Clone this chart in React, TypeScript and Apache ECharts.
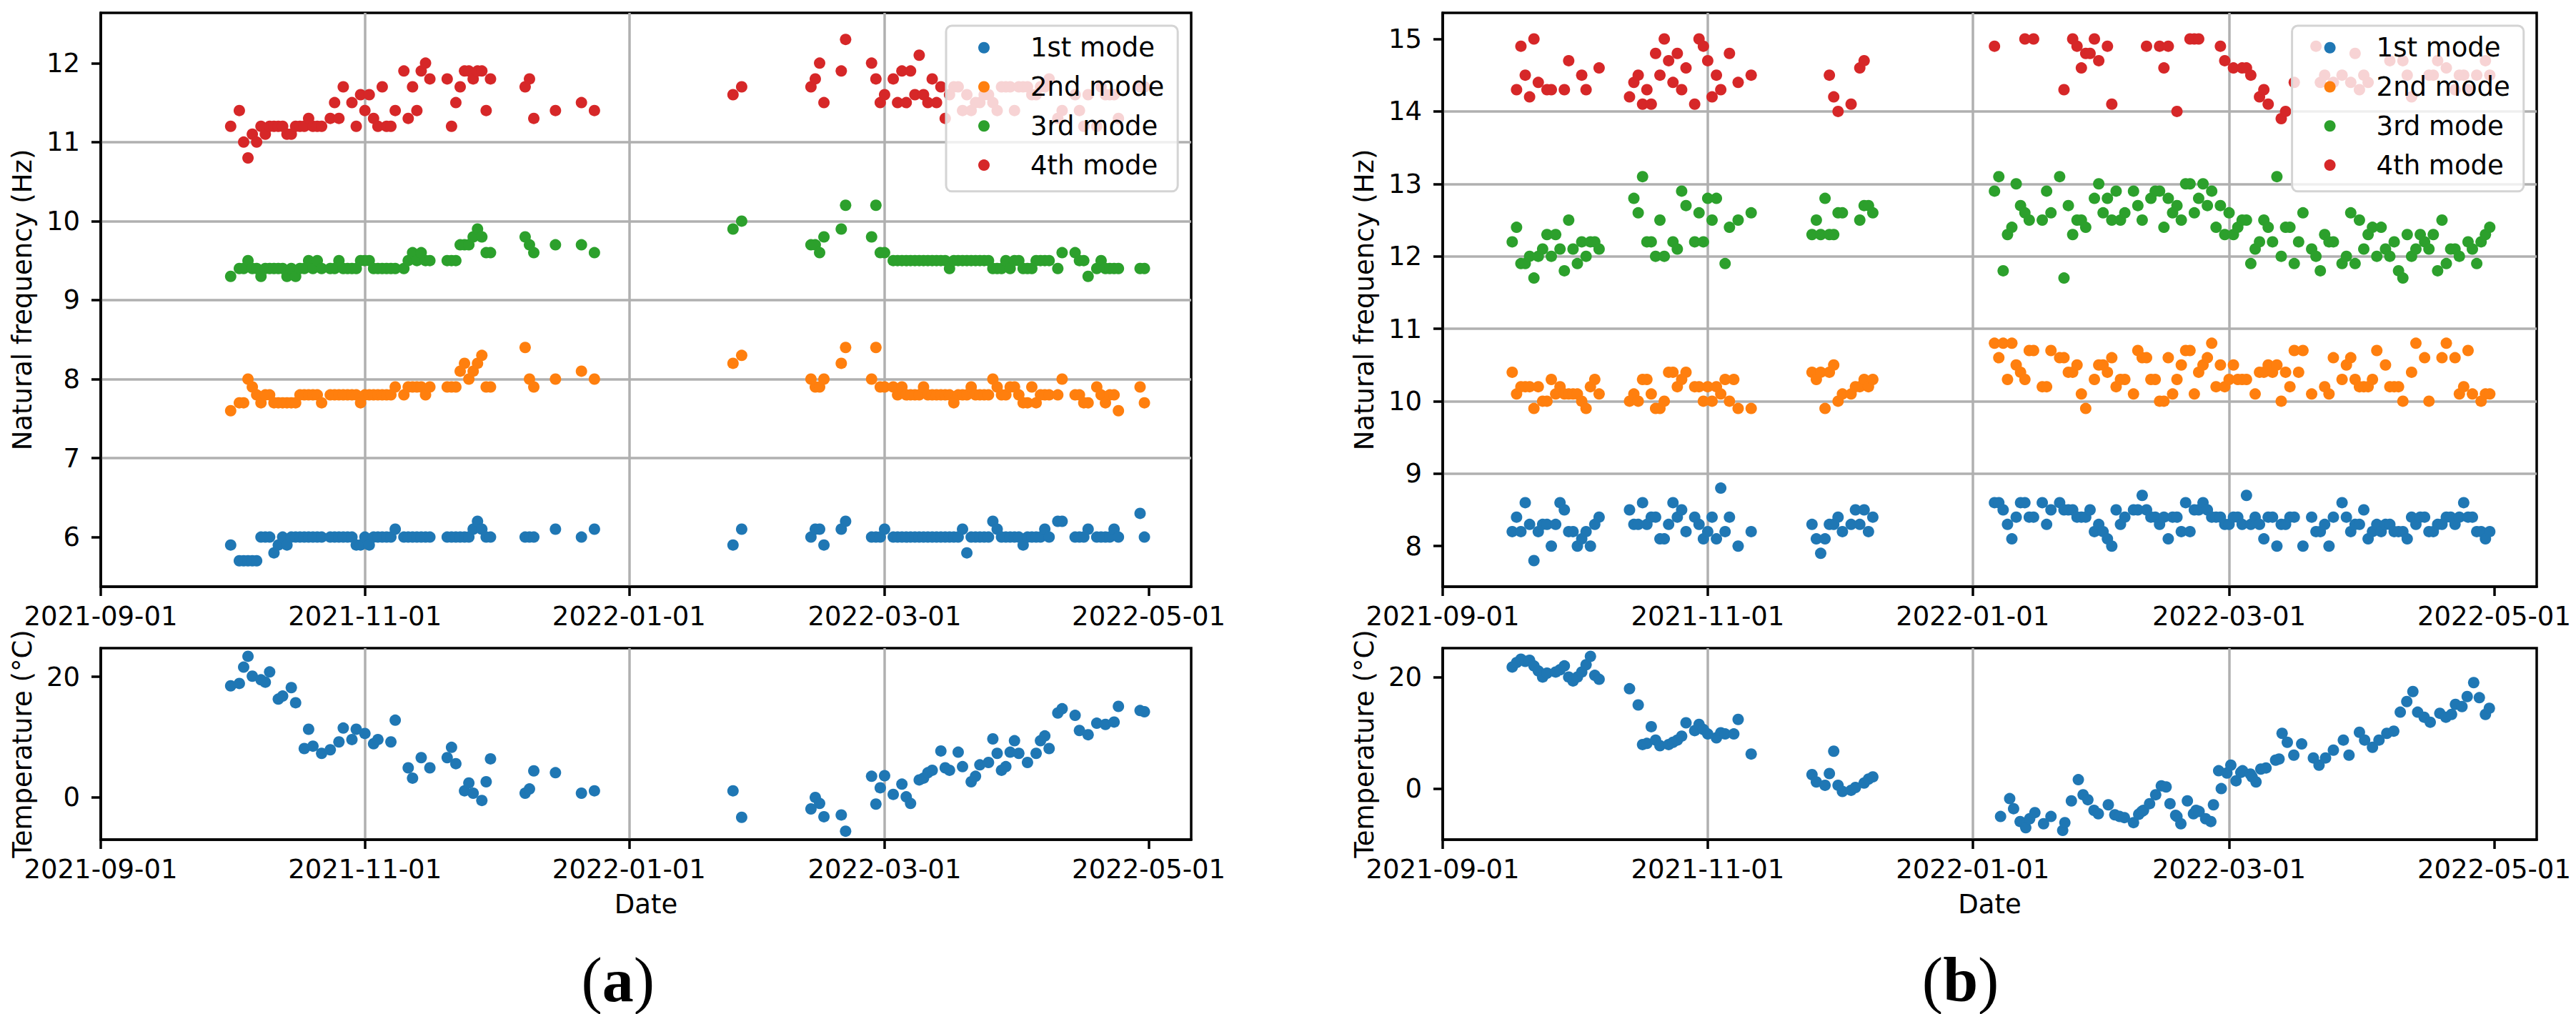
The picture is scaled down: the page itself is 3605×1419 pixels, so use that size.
import React, { useEffect, useRef } from 'react';
import * as echarts from 'echarts';

// ---------- axis ticks ----------
const X_TICK_DAYS = [0, 61, 122, 181, 242]; // days since 2021-09-01
const X_TICK_LABELS = ['2021-09-01', '2021-11-01', '2022-01-01', '2022-03-01', '2022-05-01'];
const X_MAX_DAY = 251.8;
const Y_TICKS_A = [6, 7, 8, 9, 10, 11, 12];
const Y_TICKS_B = [8, 9, 10, 11, 12, 13, 14, 15];
const T_TICKS = [0, 20];
const MODE_NAMES = ['1st mode', '2nd mode', '3rd mode', '4th mode'];
const MODE_COLORS = ['#1f77b4', '#ff7f0e', '#2ca02c', '#d62728'];

// ---------- panel (a): natural frequencies ----------
const daysA = [30, 32, 33, 34, 35, 36, 37, 38, 39, 40, 41, 42, 43, 44, 45, 46, 47, 48, 49, 50, 51, 53, 54, 55, 56, 57, 58, 59, 60, 61, 62, 63, 64, 65, 66, 67, 68, 70, 71, 72, 73, 74, 75, 76, 80, 81, 82, 83, 84, 85, 86, 87, 88, 89, 90, 98, 99, 100, 105, 111, 114,
  146, 148, 164, 165, 166, 167, 171, 172, 178, 179, 180, 181, 183, 184, 185, 186, 187, 188, 189, 190, 191, 192, 193, 194, 195, 196, 197, 198, 199, 200, 201, 202, 203, 204, 205, 206, 207, 208, 209, 210, 211, 212, 213, 214, 215, 216, 217, 218, 219, 221, 222, 225, 226, 227, 228, 230, 231, 232, 233, 234, 235, 240, 241];
const mode1A = [5.9, 5.7, 5.7, 5.7, 5.7, 5.7, 6.0, 6.0, 6.0, 5.8, 5.9, 6.0, 5.9, 6.0, 6.0, 6.0, 6.0, 6.0, 6.0, 6.0, 6.0, 6.0, 6.0, 6.0, 6.0, 6.0, 6.0, 5.9, 5.9, 6.0, 5.9, 6.0, 6.0, 6.0, 6.0, 6.0, 6.1, 6.0, 6.0, 6.0, 6.0, 6.0, 6.0, 6.0, 6.0, 6.0, 6.0, 6.0, 6.0, 6.0, 6.1, 6.2, 6.1, 6.0, 6.0, 6.0, 6.0, 6.0, 6.1, 6.0, 6.1,
  5.9, 6.1, 6.0, 6.1, 6.1, 5.9, 6.1, 6.2, 6.0, 6.0, 6.0, 6.1, 6.0, 6.0, 6.0, 6.0, 6.0, 6.0, 6.0, 6.0, 6.0, 6.0, 6.0, 6.0, 6.0, 6.0, 6.0, 6.0, 6.1, 5.8, 6.0, 6.0, 6.0, 6.0, 6.0, 6.2, 6.1, 6.0, 6.0, 6.0, 6.0, 6.0, 5.9, 6.0, 6.0, 6.0, 6.0, 6.1, 6.0, 6.2, 6.2, 6.0, 6.0, 6.0, 6.1, 6.0, 6.0, 6.0, 6.0, 6.1, 6.0, 6.3, 6.0];
const mode2A = [7.6, 7.7, 7.7, 8.0, 7.9, 7.8, 7.7, 7.8, 7.8, 7.7, 7.7, 7.7, 7.7, 7.7, 7.7, 7.8, 7.8, 7.8, 7.8, 7.8, 7.7, 7.8, 7.8, 7.8, 7.8, 7.8, 7.8, 7.8, 7.7, 7.8, 7.8, 7.8, 7.8, 7.8, 7.8, 7.8, 7.9, 7.8, 7.9, 7.9, 7.9, 7.9, 7.8, 7.9, 7.9, 7.9, 7.9, 8.1, 8.2, 8.0, 8.1, 8.2, 8.3, 7.9, 7.9, 8.4, 8.0, 7.9, 8.0, 8.1, 8.0,
  8.2, 8.3, 8.0, 7.9, 7.9, 8.0, 8.2, 8.4, 8.0, 8.4, 7.9, 7.9, 7.9, 7.8, 7.9, 7.8, 7.8, 7.8, 7.8, 7.9, 7.8, 7.8, 7.8, 7.8, 7.8, 7.8, 7.7, 7.8, 7.8, 7.8, 7.9, 7.8, 7.8, 7.8, 7.8, 8.0, 7.9, 7.8, 7.8, 7.9, 7.9, 7.8, 7.7, 7.7, 7.9, 7.7, 7.8, 7.8, 7.8, 7.8, 8.0, 7.8, 7.8, 7.7, 7.7, 7.9, 7.8, 7.7, 7.8, 7.8, 7.6, 7.9, 7.7];
const mode3A = [9.3, 9.4, 9.4, 9.5, 9.4, 9.4, 9.3, 9.4, 9.4, 9.4, 9.4, 9.4, 9.3, 9.4, 9.3, 9.4, 9.4, 9.5, 9.4, 9.5, 9.4, 9.4, 9.4, 9.5, 9.4, 9.4, 9.4, 9.4, 9.5, 9.5, 9.5, 9.4, 9.4, 9.4, 9.4, 9.4, 9.4, 9.4, 9.5, 9.6, 9.5, 9.6, 9.5, 9.5, 9.5, 9.5, 9.5, 9.7, 9.7, 9.7, 9.8, 9.9, 9.8, 9.6, 9.6, 9.8, 9.7, 9.6, 9.7, 9.7, 9.6,
  9.9, 10.0, 9.7, 9.7, 9.6, 9.8, 9.9, 10.2, 9.8, 10.2, 9.6, 9.6, 9.5, 9.5, 9.5, 9.5, 9.5, 9.5, 9.5, 9.5, 9.5, 9.5, 9.5, 9.5, 9.5, 9.4, 9.5, 9.5, 9.5, 9.5, 9.5, 9.5, 9.5, 9.5, 9.5, 9.4, 9.4, 9.4, 9.5, 9.4, 9.5, 9.5, 9.4, 9.4, 9.4, 9.5, 9.5, 9.5, 9.5, 9.4, 9.6, 9.6, 9.5, 9.5, 9.3, 9.4, 9.5, 9.4, 9.4, 9.4, 9.4, 9.4, 9.4];
const mode4A = [11.2, 11.4, 11.0, 10.8, 11.1, 11.0, 11.2, 11.1, 11.2, 11.2, 11.2, 11.2, 11.1, 11.1, 11.2, 11.2, 11.2, 11.3, 11.2, 11.2, 11.2, 11.3, 11.5, 11.3, 11.7, null, 11.5, 11.2, 11.6, 11.4, 11.6, 11.3, 11.2, 11.7, 11.2, 11.2, 11.4, 11.9, 11.3, 11.7, 11.4, 11.9, 12.0, 11.8, 11.8, 11.2, 11.5, 11.7, 11.9, 11.9, 11.8, 11.9, 11.9, 11.4, 11.8, 11.7, 11.8, 11.3, 11.4, 11.5, 11.4,
  11.6, 11.7, 11.7, 11.8, 12.0, 11.5, 11.9, 12.3, 12.0, 11.8, 11.5, 11.6, 11.8, 11.5, 11.9, 11.5, 11.9, 11.6, 12.1, 11.6, 11.5, 11.8, 11.5, 11.7, 11.3, 11.6, 11.7, 11.7, 11.4, 11.6, 11.4, 11.5, 11.5, 11.6, 11.6, 11.5, 11.4, 11.7, 11.7, 11.7, 11.4, 11.7, 11.7, 11.7, 11.6, 11.6, 11.7, 11.7, 11.8, 11.3, 11.4, 11.6, 11.4, 11.2, 11.6, 11.2, 11.7, 11.6, 11.6, 11.6, 11.3, 11.7, 11.7];

// ---------- panel (a): temperature ----------
const tempDaysA = [30, 32, 33, 34, 35, 37, 38, 39, 41, 42, 44, 45, 47, 48, 49, 51, 53, 55, 56, 58, 59, 61, 63, 64, 67, 68, 71, 72, 74, 76, 80, 81, 82, 84, 85, 86, 88, 89, 90, 98, 99, 100, 105, 111, 114, 146, 148, 164, 165, 166, 167, 171, 172, 178, 179, 180, 181, 183, 185, 186, 187, 189, 190, 191, 192, 194, 195, 196, 198, 199, 201, 202, 203, 205, 206, 207, 208, 209, 210, 211, 212, 214, 216, 217, 218, 219, 221, 222, 225, 226, 228, 230, 232, 234, 235, 240, 241];
const tempA = [18.5, 18.9, 21.6, 23.4, 20.1, 19.5, 19.1, 20.8, 16.3, 16.8, 18.2, 15.7, 8.1, 11.3, 8.5, 7.3, 7.9, 9.2, 11.5, 9.6, 11.3, 10.6, 8.9, 9.6, 9.2, 12.8, 4.9, 3.2, 6.6, 4.9, 6.6, 8.3, 5.6, 1.1, 2.4, 0.7, -0.5, 2.6, 6.4, 0.7, 1.4, 4.4, 4.1, 0.7, 1.1, 1.1, -3.3, -1.9, 0.0, -1.0, -3.2, -2.9, -5.6, 3.5, -1.1, 1.6, 3.6, 0.5, 2.2, 0.1, -1.0, 2.9, 3.2, 4.1, 4.5, 7.7, 4.9, 4.5, 7.5, 5.1, 2.6, 3.5, 5.4, 5.8, 9.7, 7.3, 4.5, 5.1, 7.5, 9.4, 7.3, 5.8, 7.3, 9.4, 10.2, 8.1, 14.0, 14.7, 13.6, 11.1, 10.4, 12.3, 12.1, 12.5, 15.1, 14.4, 14.2];

// ---------- panel (b): natural frequencies ----------
const daysB = [16, 17, 18, 19, 20, 21, 22, 23, 24, 25, 26, 27, 28, 29, 30, 31, 32, 33, 34, 35, 36, 43, 44, 45, 46, 47, 48, 49, 50, 51, 52, 53, 54, 55, 56, 58, 59, 60, 61, 62, 63, 64, 65, 66, 67, 68, 71, 85, 86, 87, 88, 89, 90, 91, 92, 94, 95, 96, 97, 98, 99,
  127, 128, 129, 130, 131, 132, 133, 134, 135, 136, 138, 139, 140, 142, 143, 144, 145, 146, 147, 148, 149, 150, 151, 152, 153, 154, 155, 156, 157, 159, 160, 161, 162, 163, 164, 165, 166, 167, 168, 169, 170, 171, 172, 173, 174, 175, 176, 177, 178, 179, 180, 181, 182, 183, 184, 185, 186, 187, 188, 189, 190, 191, 192, 193, 194, 195, 196, 197, 198, 200, 201, 202, 203, 204, 205, 207, 208, 209, 210, 211, 212, 213, 214, 215, 216, 217, 218, 219, 220, 221, 222, 223, 224, 225, 226, 227, 228, 229, 230, 231, 232, 233, 234, 235, 236, 237, 238, 239, 240, 241];
const mode1B = [8.2, 8.4, 8.2, 8.6, 8.3, 7.8, 8.2, 8.3, 8.3, 8.0, 8.3, 8.6, 8.5, 8.2, 8.2, 8.0, 8.1, 8.2, 8.0, 8.3, 8.4, 8.5, 8.3, 8.3, 8.6, 8.3, 8.4, 8.4, 8.1, 8.1, 8.3, 8.6, 8.4, 8.5, 8.2, 8.4, 8.3, 8.1, 8.2, 8.4, 8.1, 8.8, 8.2, 8.4, null, 8.0, 8.2, 8.3, 8.1, 7.9, 8.1, 8.3, 8.3, 8.4, 8.2, 8.3, 8.5, 8.3, 8.5, 8.2, 8.4,
  8.6, 8.6, 8.5, 8.3, 8.1, 8.4, 8.6, 8.6, 8.4, 8.4, 8.6, 8.3, 8.5, 8.6, 8.5, 8.5, 8.5, 8.4, 8.4, 8.4, 8.5, 8.2, 8.3, 8.2, 8.1, 8.0, 8.5, 8.3, 8.4,
  8.5, 8.5, 8.7, 8.5, 8.4, 8.4, 8.3, 8.4, 8.1, 8.4, 8.4, 8.2, 8.6, 8.2, 8.5, 8.5, 8.6, 8.5, 8.4, 8.4, 8.4, 8.3, 8.3, 8.4, 8.4, 8.3, 8.7, 8.3, 8.4, 8.3, 8.1, 8.4, 8.4, 8.0, 8.3, 8.3, 8.4, 8.4, null, 8.0,
  8.4, 8.2, 8.2, 8.3, 8.0, 8.4,
  8.6, 8.4, 8.2, 8.3, 8.3, 8.5, 8.1, 8.2, 8.3, 8.2, 8.3, 8.3, 8.2, 8.2, 8.2, 8.1, 8.4, 8.3, 8.4, 8.4, 8.2, 8.2, 8.3, 8.3, 8.4, 8.4, 8.3, 8.4, 8.6, 8.4, 8.4, 8.2, 8.2, 8.1, 8.2];
const mode2B = [10.4, 10.1, 10.2, 10.2, 10.2, 9.9, 10.2, 10.0, 10.0, 10.3, 10.1, 10.2, 10.1, 10.1, 10.1, 10.1, 10.0, 9.9, 10.2, 10.3, 10.1, 10.0, 10.1, 10.0, 10.3, 10.3, 10.1, 9.9, 9.9, 10.0, 10.4, 10.4, 10.2, 10.3, 10.4, 10.2, 10.2, 10.0, 10.2, 10.0, 10.2, 10.1, 10.3, 10.0, 10.3, 9.9, 9.9, 10.4, 10.3, 10.4, 9.9, 10.4, 10.5, 10.0, 10.1, 10.1, 10.2, 10.2, 10.3, 10.2, 10.3,
  10.8, 10.6, 10.8, 10.3, 10.8, 10.5, 10.4, 10.3, 10.7, 10.7, 10.2, 10.2, 10.7, 10.6, 10.6, 10.4, 10.4, 10.5, 10.1, 9.9, null, 10.3, 10.5, 10.5, 10.4, 10.6, 10.2, 10.3, 10.3,
  10.1, 10.7, 10.6, 10.6, 10.3, 10.3, 10.0, 10.0, 10.6, 10.1, 10.3, 10.5, 10.7, 10.7, 10.1, 10.4, 10.5, 10.6, 10.8, 10.2, 10.5, 10.2, 10.3, 10.5, 10.3, 10.3, 10.3, null, 10.1, 10.4, 10.4, 10.5, 10.4, 10.5, 10.0, 10.4, 10.2, 10.7, 10.4, 10.7,
  10.1, null, null, 10.2, 10.1, 10.6,
  10.3, 10.5, 10.6, 10.3, 10.2, 10.2, 10.2, 10.3, 10.7, null, 10.5, 10.2, 10.2, 10.2, 10.0, null, 10.4, 10.8, null, 10.6, 10.0, null, null, 10.6, 10.8, null, 10.6, 10.1, 10.2, 10.7, 10.1, null, 10.0, 10.1, 10.1];
const mode3B = [12.2, 12.4, 11.9, 11.9, 12.0, 11.7, 12.0, 12.1, 12.3, 12.0, 12.3, 12.1, 11.8, 12.5, 12.1, 11.9, 12.2, 12.0, 12.2, 12.2, 12.1, null, 12.8, 12.6, 13.1, 12.2, 12.2, 12.0, 12.5, 12.0, null, 12.2, 12.1, 12.9, 12.7, 12.2, 12.6, 12.2, 12.8, 12.5, 12.8, null, 11.9, 12.4, null, 12.5, 12.6, 12.3, 12.5, 12.3, 12.8, 12.3, 12.3, 12.6, 12.6, null, null, 12.5, 12.7, 12.7, 12.6,
  12.9, 13.1, 11.8, 12.3, 12.4, 13.0, 12.7, 12.6, 12.5, null, 12.5, 12.9, 12.6, 13.1, 11.7, 12.7, 12.3, 12.5, 12.5, 12.4, null, 12.8, 13.0, 12.6, 12.8, 12.5, 12.9, 12.5, 12.6,
  12.9, 12.7, 12.5, null, 12.8, 12.9, 12.9, 12.4, 12.8, 12.6, 12.7, 12.5, 13.0, 13.0, 12.6, 12.8, 13.0, 12.7, 12.9, 12.4, 12.7, 12.3, 12.6, 12.3, 12.4, 12.5, 12.5, 11.9, 12.1, 12.2, 12.5, 12.4, 12.2, 13.1, 12.0, 12.4, 12.4, 11.9, 12.2, 12.6,
  12.1, 12.0, 11.8, 12.3, 12.2, 12.2,
  11.9, 12.0, 12.6, 11.9, 12.5, 12.1, 12.3, 12.4, 12.0, 12.4, 12.1, 12.0, 12.2, 11.8, 11.7, 12.3, 12.0, 12.1, 12.3, 12.2, 12.1, 12.3, 11.8, 12.5, 11.9, 12.1, 12.1, 12.0, null, 12.2, 12.1, 11.9, 12.2, 12.3, 12.4];
const mode4B = [null, 14.3, 14.9, 14.5, 14.2, 15.0, 14.4, null, 14.3, 14.3, null, null, 14.3, 14.7, null, null, 14.5, 14.3, null, null, 14.6, 14.2, 14.4, 14.5, 14.1, 14.3, 14.1, 14.8, 14.5, 15.0, 14.7, 14.4, 14.8, 14.3, 14.6, 14.1, 15.0, 14.9, 14.7, 14.2, 14.5, 14.3, null, 14.8, null, 14.4, 14.5, null, null, null, null, 14.5, 14.2, 14.0, null, 14.1, null, 14.6, 14.7, null, null,
  14.9, null, null, null, null, null, null, 15.0, null, 15.0, null, null, null, null, 14.3, null, 15.0, 14.9, 14.6, 14.8, 14.8, 15.0, 14.7, null, 14.9, 14.1, null, null, null,
  null, null, null, 14.9, null, null, 14.9, 14.6, 14.9, null, 14.0, null, null, 15.0, 15.0, 15.0, null, null, null, null, 14.9, 14.7, null, 14.6, null, 14.6, 14.6, 14.5, null, 14.2, 14.3, 14.1, null, null, 13.9, 14.0, null, 14.4, null, null,
  null, 14.9, 14.4, 14.5, null, 14.4,
  14.5, null, 14.4, 14.8, 14.3, 14.5, 14.4, null, null, null, null, 14.7, null, null, 14.7, 14.5, 14.2, null, null, null, 14.5, 14.5, 14.7, null, 14.6, null, 14.3, 14.5, 14.5, 14.3, null, 14.5, null, 14.7, 14.5];

// ---------- panel (b): temperature ----------
const tempDaysB = [16, 17, 18, 19, 20, 21, 22, 23, 24, 26, 27, 28, 29, 30, 31, 32, 33, 34, 35, 36, 43, 45, 46, 47, 48, 49, 50, 52, 53, 54, 55, 56, 58, 59, 60, 61, 63, 64, 65, 67, 68, 71, 85, 86, 88, 89, 90, 91, 92, 94, 95, 97, 98, 99,
  128.4, 130.5, 131.4, 132.9, 134.2, 135.1, 136.3, 138.3, 140.0, 142.7, 143.2, 144.7, 146.3, 147.4, 148.5, 149.9, 150.9, 153.2, 154.7, 155.8, 156.9, 159.0, 160.2, 160.9, 161.3, 162.7, 164.1, 165.4, 166.5, 167.4, 168.7, 169.0, 169.9, 171.4, 172.8, 173.4, 174.1, 175.6, 176.8, 177.4, 178.6, 179.2, 180.5, 181.4, 182.6, 183.7, 184.1, 185.9, 186.3, 187.2, 188.3, 189.5, 191.7, 192.5, 193.2, 194.4, 195.9, 197.7, 200.4, 201.7, 203.2, 205.0, 207.3, 208.6, 211.0, 212.2, 214.0, 215.5, 217.3, 218.9, 220.4, 221.9, 223.3, 224.4, 225.9, 227.3, 229.5, 230.9, 232.2, 233.1, 234.6, 235.8, 237.3, 238.6, 240.0, 240.9];
const tempB = [21.8, 22.6, 23.2, 22.8, 23.0, 22.0, 21.1, 20.0, 20.7, 20.9, 21.3, 22.0, 20.0, 19.3, 20.0, 20.9, 22.2, 23.7, 20.3, 19.6, 17.9, 15.0, 7.9, 8.1, 11.1, 8.7, 7.7, 7.9, 8.3, 8.7, 9.4, 11.8, 10.4, 11.5, 10.6, 9.8, 9.1, 10.0, 9.8, 9.8, 12.4, 6.2, 2.5, 1.2, 0.6, 2.7, 6.7, 0.6, -0.5, -0.3, 0.2, 1.0, 1.7, 2.1,
  -5.0, -1.8, -3.6, -5.9, -7.0, -5.4, -4.3, -6.3, -5.0, -7.5, -6.1, -2.2, 1.6, -1.1, -2.0, -3.9, -4.5, -2.9, -4.7, -5.0, -5.2, -6.1, -4.6, -4.1, -3.9, -2.7, -1.1, 0.5, 0.3, -2.7, -4.8, -5.0, -6.3, -2.2, -4.5, -3.9, -4.1, -5.4, -5.9, -2.9, 3.2, 0.0, 2.8, 4.2, 1.4, 2.9, 3.2, 2.6, 2.1, 1.2, 3.5, 3.7, 5.1, 5.3, 9.9, 8.3, 6.0, 8.0, 5.5, 4.2, 5.5, 6.9, 8.7, 6.0, 10.1, 8.7, 7.4, 8.7, 9.9, 10.3, 13.7, 15.6, 17.4, 13.7, 12.8, 11.9, 13.5, 12.8, 13.3, 15.1, 14.7, 16.5, 19.0, 16.3, 13.3, 14.4];

// ---------- helpers ----------
const FONT = 'DejaVu Sans';
const GRID_GRAY = '#b0b0b0';
const FS = 37;

function pairs(days: number[], vals: (number | null)[]) {
  const out: number[][] = [];
  for (let i = 0; i < days.length; i++) {
    const v = vals[i];
    if (v !== null && v !== undefined) out.push([days[i], v]);
  }
  return out;
}

function dayLabel(v: number) {
  const i = X_TICK_DAYS.indexOf(Math.round(v));
  return i >= 0 ? X_TICK_LABELS[i] : '';
}

function makeX(gridIndex: number, withName: boolean) {
  return {
    type: 'value', gridIndex, min: 0, max: X_MAX_DAY,
    axisLine: { show: true, onZero: false, lineStyle: { color: '#000', width: 3.5 } },
    axisTick: { show: true, customValues: X_TICK_DAYS, length: 13, lineStyle: { color: '#000', width: 3.5 } },
    axisLabel: { show: true, customValues: X_TICK_DAYS, formatter: dayLabel, color: '#000', fontSize: FS, fontFamily: FONT, margin: 23 },
    splitLine: { show: true, showMinLine: false, showMaxLine: false, customValues: X_TICK_DAYS, lineStyle: { color: GRID_GRAY, width: 3.5 } },
    name: withName ? 'Date' : '', nameLocation: 'middle', nameGap: 72,
    nameTextStyle: { color: '#000', fontSize: FS, fontFamily: FONT },
  };
}

function makeY(gridIndex: number, min: number, max: number, ticks: number[], name: string) {
  return {
    type: 'value', gridIndex, min, max,
    axisLine: { show: true, onZero: false, lineStyle: { color: '#000', width: 3.5 } },
    axisTick: { show: true, customValues: ticks, length: 13, lineStyle: { color: '#000', width: 3.5 } },
    axisLabel: { show: true, customValues: ticks, formatter: (v: number) => String(v), color: '#000', fontSize: FS, fontFamily: FONT, margin: 29 },
    splitLine: { show: true, showMinLine: false, showMaxLine: false, customValues: ticks, lineStyle: { color: GRID_GRAY, width: 3.5 } },
    name, nameLocation: 'middle', nameGap: 91, nameRotate: 90,
    nameTextStyle: { color: '#000', fontSize: FS, fontFamily: FONT },
  };
}

function modeSeries(axisIndex: number, days: number[], modes: (number | null)[][]) {
  return modes.map((vals, k) => ({
    type: 'scatter', name: MODE_NAMES[k], xAxisIndex: axisIndex, yAxisIndex: axisIndex,
    data: pairs(days, vals), symbol: 'circle', symbolSize: 16,
    itemStyle: { color: MODE_COLORS[k], opacity: 1 }, emphasis: { disabled: true }, z: 2 + k * 0.01,
  }));
}

function tempSeries(axisIndex: number, days: number[], vals: number[]) {
  return {
    type: 'scatter', name: 'Temperature', xAxisIndex: axisIndex, yAxisIndex: axisIndex,
    data: pairs(days, vals), symbol: 'circle', symbolSize: 16,
    itemStyle: { color: MODE_COLORS[0], opacity: 1 }, emphasis: { disabled: true },
  };
}

function makeLegend(left: number) {
  return {
    data: MODE_NAMES, left, top: 36, orient: 'vertical', selectedMode: false,
    icon: 'circle', itemWidth: 16, itemHeight: 16, itemGap: 10.8,
    padding: [8.7, 19, 14.7, 45],
    backgroundColor: 'rgba(255,255,255,0.8)', borderColor: '#d4d4d4', borderWidth: 3, borderRadius: 8,
    textStyle: { color: '#000', fontSize: FS, fontFamily: FONT, lineHeight: 44, padding: [0, 0, 0, 52] },
  };
}

function caption(x: number, letter: string) {
  return {
    type: 'text', x, y: 1371, z: 10,
    style: {
      text: '{p|(}{b|' + letter + '}{p|)}', align: 'center', verticalAlign: 'middle',
      rich: {
        p: { fontFamily: 'Liberation Serif', fontSize: 88, lineHeight: 72, fill: '#000' },
        b: { fontFamily: 'Liberation Serif', fontSize: 88, lineHeight: 72, fontWeight: 'bold', fill: '#000' },
      },
    },
  };
}

export default function App() {
  const ref = useRef<HTMLDivElement>(null);
  useEffect(() => {
    if (!ref.current) return;
    const chart = echarts.init(ref.current, undefined, { renderer: 'svg' });
    const gridBase = { show: true, borderColor: '#000', borderWidth: 3.5, backgroundColor: 'transparent', containLabel: false };
    chart.setOption({
      animation: false,
      backgroundColor: '#fff',
      grid: [
        { ...gridBase, left: 141, top: 18, width: 1526, height: 803 },
        { ...gridBase, left: 141, top: 907, width: 1526, height: 268 },
        { ...gridBase, left: 2019, top: 18, width: 1531, height: 803 },
        { ...gridBase, left: 2019, top: 907, width: 1531, height: 268 },
      ],
      xAxis: [makeX(0, false), makeX(1, true), makeX(2, false), makeX(3, true)],
      yAxis: [
        makeY(0, 5.372, 12.636, Y_TICKS_A, 'Natural frequency (Hz)'),
        makeY(1, -7.0, 24.75, T_TICKS, 'Temperature (°C)'),
        makeY(2, 7.44, 15.36, Y_TICKS_B, 'Natural frequency (Hz)'),
        makeY(3, -9.15, 25.18, T_TICKS, 'Temperature (°C)'),
      ],
      legend: [makeLegend(1324), makeLegend(3207.6)],
      series: [
        ...modeSeries(0, daysA, [mode1A, mode2A, mode3A, mode4A]),
        tempSeries(1, tempDaysA, tempA),
        ...modeSeries(2, daysB, [mode1B, mode2B, mode3B, mode4B]),
        tempSeries(3, tempDaysB, tempB),
      ],
      graphic: [caption(864.7, 'a'), caption(2743.6, 'b')],
    });
    return () => chart.dispose();
  }, []);
  return <div ref={ref} style={{ position: 'fixed', left: 0, top: 0, width: 3605, height: 1419, background: '#fff' }} />;
}
